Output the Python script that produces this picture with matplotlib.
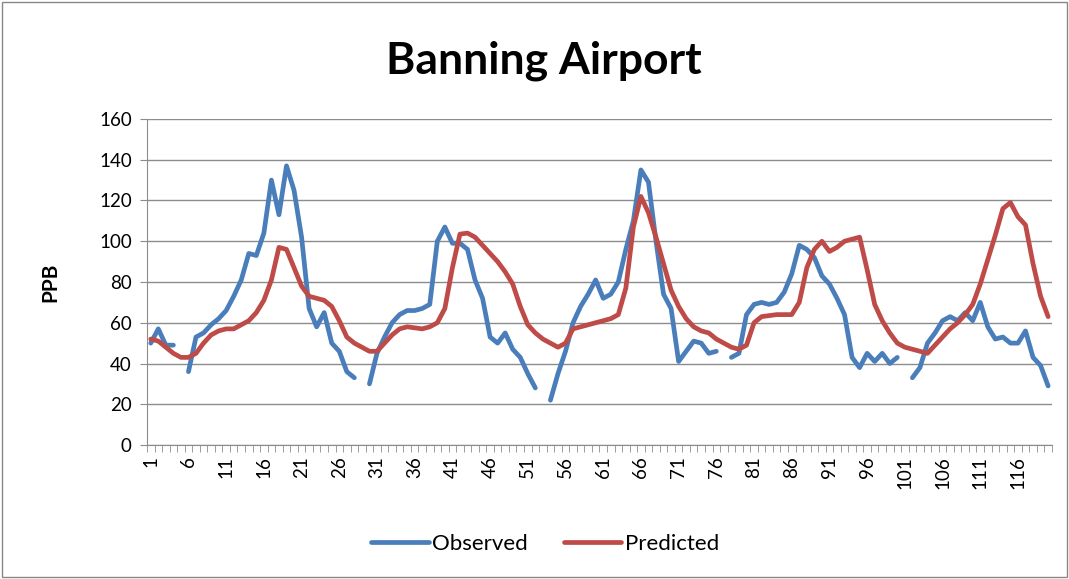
import numpy as np
import matplotlib.pyplot as plt
from matplotlib.patches import Rectangle

nan = np.nan

# x categories 1..120
periods = np.arange(1, 121)

observed = [
    50, 57, 49, 49, nan, 36, 53, 55, 59, 62,
    66, 73, 81, 94, 93, 104, 130, 113, 137, 125,
    102, 67, 58, 65, 50, 46, 36, 33, nan, 30,
    45, 53, 60, 64, 66, 66, 67, 69, 100, 107,
    99, 99, 96, 81, 72, 53, 50, 55, 47, 43,
    35, 28, nan, 22, 35, 46, 60, 68, 74, 81,
    72, 74, 80, 96, 110, 135, 129, 100, 74, 67,
    41, 46, 51, 50, 45, 46, nan, 43, 45, 64,
    69, 70, 69, 70, 75, 84, 98, 96, 92, 83,
    79, 72, 64, 43, 38, 45, 41, 45, 40, 43,
    nan, 33, 38, 50, 55, 61, 63, 61, 65, 61,
    70, 58, 52, 53, 50, 50, 56, 43, 39, 29,
]

predicted = [
    52, 51, 48, 45, 43, 43, 45, 50, 54, 56,
    57, 57, 59, 61, 65, 71, 81, 97, 96, 87,
    78, 73, 72, 71, 68, 61, 53, 50, 48, 46,
    46, 50, 54, 57, 58, 57.5, 57, 58, 60, 67,
    87, 103.5, 104, 102, 98, 94, 90, 85, 79, 68,
    59, 55, 52, 50, 48, 50, 57, 58, 59, 60,
    61, 62, 64, 77, 107, 122, 114, 102, 89, 76,
    68, 62, 58, 56, 55, 52, 50, 48, 47, 49,
    60, 63, 63.5, 64, 64, 64, 70, 87, 96, 100,
    95, 97, 100, 101, 102, 86, 69, 61, 55, 50,
    48, 47, 46, 45, 49, 53, 57, 60, 64, 69,
    79, 91, 103, 116, 119, 112, 108, 89, 73, 63,
]

plt.rcParams['font.family'] = ['Lato', 'DejaVu Sans']

fig = plt.figure(figsize=(10.69, 5.79), dpi=100)
ax = fig.add_axes([0.1375, 0.2314, 0.8465, 0.5631])

ax.plot(periods, observed, color='#4A7EBB', lw=3.4, label='Observed', solid_capstyle='round')
ax.plot(periods, predicted, color='#BE4B48', lw=3.4, label='Predicted', solid_capstyle='round')

# axes styling, Excel-like
ax.set_xlim(0.5, 120.5)
ax.set_ylim(0, 160)
ax.set_yticks(range(0, 161, 20))
ax.yaxis.grid(True, color='#8c8c8c', lw=1)
ax.set_axisbelow(True)
for s in ['top', 'right']:
    ax.spines[s].set_visible(False)
for s in ['left', 'bottom']:
    ax.spines[s].set_color('#8c8c8c')

ax.set_xticks(periods[::5])
ax.set_xticklabels([str(p) for p in periods[::5]], rotation=90)
ax.set_xticks(np.arange(0.5, 121, 1), minor=True)
ax.tick_params(axis='x', which='major', length=0, labelsize=13.5, pad=8)
ax.tick_params(axis='x', which='minor', length=5, color='#8c8c8c')
ax.tick_params(axis='y', length=5, color='#8c8c8c', labelsize=13.5, pad=6)

ax.set_ylabel('PPB', fontsize=15, fontweight='bold', labelpad=28)
fig.text(0.509, 0.895, 'Banning Airport', ha='center', va='center',
         fontsize=32, fontweight='bold')

fig.legend(loc='center', bbox_to_anchor=(0.51, 0.06), ncol=2, frameon=False,
           fontsize=16, handlelength=2.6, handletextpad=0.15, columnspacing=1.6)

# outer chart border
fig.patches.append(Rectangle((0.002, 0.003), 0.996, 0.994, transform=fig.transFigure,
                             fill=False, edgecolor='#888888', lw=1))

fig.savefig('out.png', dpi=100)
